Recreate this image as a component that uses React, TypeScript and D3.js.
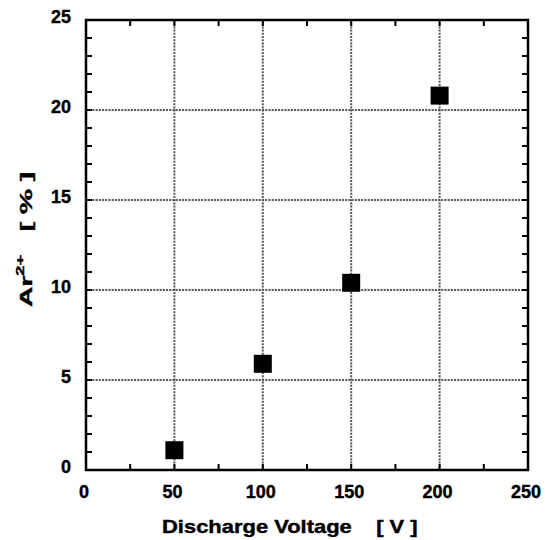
import React from 'react';
import * as d3 from 'd3';

// Discharge voltage [V] vs Ar2+ fraction [%]
const voltages = [50, 100, 150, 200];
const arFraction = [1.1, 5.9, 10.4, 20.8];
const xTicks = [0, 50, 100, 150, 200, 250];
const yTicks = [0, 5, 10, 15, 20, 25];

const W = 545;
const H = 540;
const m = { left: 86, right: 17, top: 20, bottom: 70 };

export default function App() {
  const x = d3.scaleLinear().domain([0, 250]).range([m.left, W - m.right]);
  const y = d3.scaleLinear().domain([0, 25]).range([H - m.bottom, m.top]);
  const x0 = x(0), x1 = x(250), y0 = y(0), y1 = y(25);

  const xMinor = d3.range(0, 251, 25);
  const yMinor = d3.range(0, 26, 1);
  const font = 'Arial, "Liberation Sans", sans-serif';
  const gridStyle = { stroke: '#555', strokeWidth: 2, strokeDasharray: '2,1.2' };
  const heavy = { stroke: '#000', strokeWidth: 0.4 };

  return (
    <svg width={W} height={H} style={{ position: 'absolute', left: 0, top: 0, background: '#fff' }}>
      {/* grid */}
      {xTicks.slice(1, -1).map(t => (
        <line key={'gx' + t} x1={x(t)} x2={x(t)} y1={y0} y2={y1} {...gridStyle} />
      ))}
      {yTicks.slice(1, -1).map(t => (
        <line key={'gy' + t} x1={x0} x2={x1} y1={y(t)} y2={y(t)} {...gridStyle} />
      ))}

      {/* minor ticks, inward on all sides */}
      {xMinor.map(t => (
        <g key={'tx' + t} stroke="#000" strokeWidth={2}>
          <line x1={x(t)} x2={x(t)} y1={y0} y2={y0 - 6} />
          <line x1={x(t)} x2={x(t)} y1={y1} y2={y1 + 6} />
        </g>
      ))}
      {yMinor.map(t => (
        <g key={'ty' + t} stroke="#000" strokeWidth={2}>
          <line x1={x0} x2={x0 + 6} y1={y(t)} y2={y(t)} />
          <line x1={x1} x2={x1 - 6} y1={y(t)} y2={y(t)} />
        </g>
      ))}

      {/* frame */}
      <rect x={x0} y={y1} width={x1 - x0} height={y0 - y1} fill="none" stroke="#000" strokeWidth={2.5} />

      {/* points */}
      {voltages.map((v, i) => (
        <rect key={'p' + v} x={x(v) - 9} y={y(arFraction[i]) - 9} width={18} height={18} fill="#000" />
      ))}

      {/* tick labels */}
      {xTicks.map(t => (
        <text key={'lx' + t} x={x(t) - 2} y={y0 + 28} textAnchor="middle" fontFamily={font}
          fontWeight="bold" fontSize={18} {...heavy}>{t}</text>
      ))}
      {yTicks.map(t => (
        <text key={'ly' + t} x={x0 - 15} y={y(t) + 3} textAnchor="end" fontFamily={font}
          fontWeight="bold" fontSize={18} {...heavy}>{t}</text>
      ))}

      {/* axis titles (the original uses horizontally stretched lettering) */}
      <text transform="translate(162,533) scale(1.22,1)" fontFamily={font} fontWeight="bold" fontSize={18}
        {...heavy} style={{ whiteSpace: 'pre' }}>{'Discharge Voltage    [ V ]'}</text>
      <text transform="translate(32,307) rotate(-90) scale(1.66,1)" fontFamily={font} fontWeight="bold"
        fontSize={17} {...heavy} style={{ whiteSpace: 'pre' }}>
        Ar<tspan dy={-8} fontSize={11}>2+</tspan><tspan dy={8}>{'   [ % ]'}</tspan>
      </text>
    </svg>
  );
}
